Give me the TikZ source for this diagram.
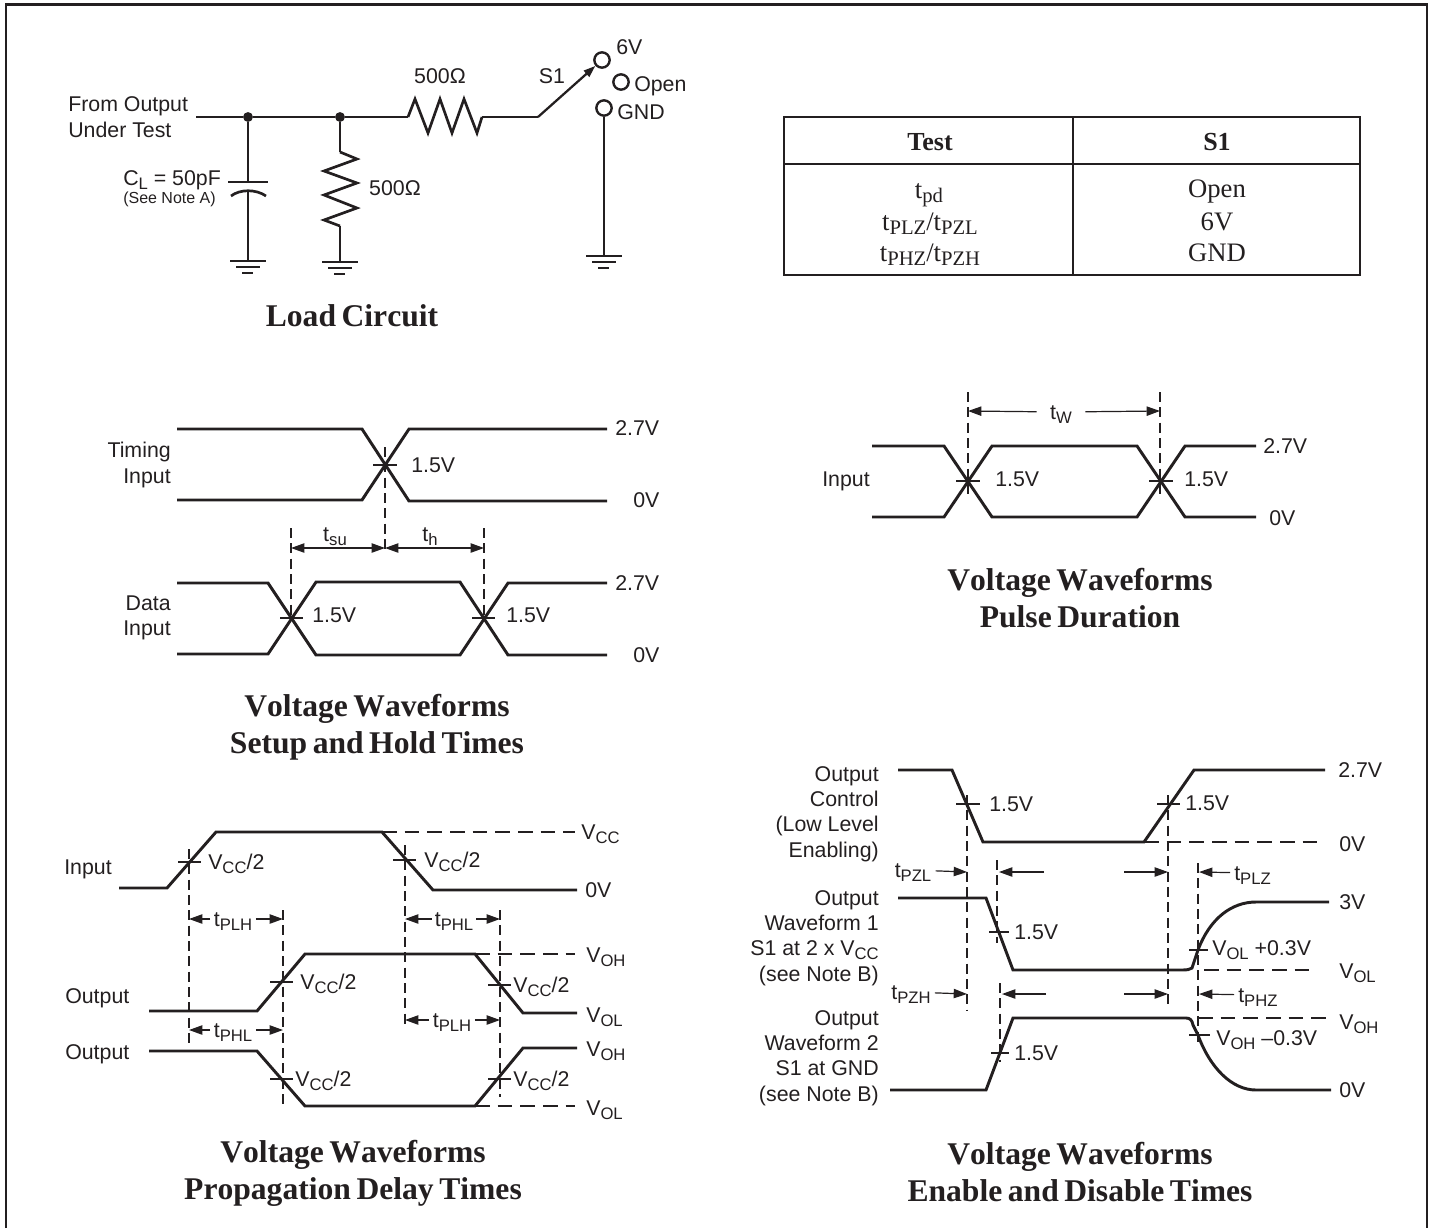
\documentclass[tikz,border=0pt]{standalone}
\usepackage{fontspec}
\setmainfont{Liberation Serif}
\setsansfont{Liberation Sans}
\newfontfamily\titlefont[WordSpace=0.7,Kerning=Off]{Liberation Serif}
\usepackage{tikz}
\usetikzlibrary{arrows.meta}
\definecolor{inkgray}{HTML}{231F20}
\tikzset{lbl/.style={font=\sffamily\fontsize{16}{19}\selectfont, text=inkgray, inner sep=0pt, text height=11.5pt, text depth=0pt}}
\tikzset{lblstack/.style={font=\sffamily\fontsize{16}{19}\selectfont, text=inkgray, inner sep=0pt, align=right, anchor=east}}
\tikzset{titletxt/.style={font=\titlefont\bfseries\fontsize{23.7}{27.75}\selectfont, text=inkgray, inner sep=0pt, align=center}}
\tikzset{cellhead/.style={font=\bfseries\fontsize{19.5}{22}\selectfont, text=inkgray, inner sep=0pt}}
\tikzset{celltxt/.style={font=\fontsize{20}{22}\selectfont, text=inkgray, inner sep=0pt, text height=13pt, text depth=0pt}}
\tikzset{wave/.style={draw=inkgray, line width=2.2pt, line join=miter}}
\tikzset{wirepen/.style={draw=inkgray, line width=2pt}}
\tikzset{dashpen/.style={draw=inkgray, line width=.8pt, dash pattern=on 7.5pt off 4pt}}
\tikzset{hdashpen/.style={draw=inkgray, line width=.8pt, dash pattern=on 11pt off 6pt}}
\tikzset{tickpen/.style={draw=inkgray, line width=.8pt}}
\tikzset{dimpen/.style={draw=inkgray, line width=.9pt, >={Triangle[length=10pt,width=7pt]}}}
\tikzset{contact/.style={shape=circle, draw=inkgray, line width=1.8pt, fill=white, minimum size=11.5pt, inner sep=0pt}}
\tikzset{junction/.style={shape=circle, fill=inkgray, minimum size=7.4pt, inner sep=0pt}}
\newcommand{\subl}[1]{\raisebox{-3pt}{\fontsize{12.5}{14}\selectfont #1}}
\newcommand{\subt}[1]{\raisebox{-2.5pt}{\fontsize{15.5}{17}\selectfont #1}}
\newcommand{\groundbars}[1]{\draw[wirepen] (#1) +(-18,0) -- +(18,0) +(-12,6) -- +(12,6) +(-6,12) -- +(5,12);}
\begin{document}
\begin{tikzpicture}[x=.75pt,y=-.75pt]
		\useasboundingbox (0,0) rectangle (1433,1228);
		\draw[draw=inkgray, line width=2.2pt] (6,1228) |- (1427,4.5) -- (1427,1228);

		\node[lblstack, align=left, anchor=west] (fromout) at (68,117) {From Output\\Under Test};
		\coordinate (w0) at (196,117);
		\node[junction] (j1) at (248,117) {};
		\node[junction] (j2) at (340,117) {};
		\coordinate (r1a) at (408,117);
		\coordinate (r1b) at (482,117);
		\coordinate (w4) at (538,117);
		\node[contact] (s6v) at (602,60) {};
		\node[contact] (sopen) at (621,82) {};
		\node[contact] (sgnd) at (604,108) {};
		\coordinate (capt) at (248,182);
		\coordinate (capb) at (248,191);
		\coordinate (g1) at (248,261);
		\coordinate (r2a) at (340,152);
		\coordinate (r2b) at (340,226);
		\coordinate (g2) at (340,262);
		\coordinate (g3) at (604,256);
		\draw[wirepen] (w0) -- (j1);
		\draw[wirepen] (j1) -- (j2);
		\draw[wirepen] (j2) -- (r1a);
		\draw[wirepen] (r1a) -- (415,99) -- (428,133) -- (440,99) -- (452,133) -- (464,99) -- (477,133) -- (r1b);
		\draw[wirepen] (r1b) -- (w4);
		\draw[wirepen, line width=1.7pt, ->, >={Triangle[length=9pt,width=6pt]}] (w4) -- (s6v);
		\draw[wirepen] (j1) -- (capt);
		\draw[wirepen] (capb) -- (g1);
		\draw[wirepen] (228,182) -- (268,182);
		\draw[wirepen] (231,196) .. controls (240,189) and (256,189) .. (266,196);
		\draw[wirepen] (j2) -- (r2a);
		\draw[wirepen] (r2a) -- (357,159) -- (324,171) -- (357,183) -- (324,195) -- (357,208) -- (324,220) -- (r2b);
		\draw[wirepen] (r2b) -- (g2);
		\draw[wirepen, line width=1.6pt] (sgnd) -- (g3);
		\groundbars{g1}
		\groundbars{g2}
		\groundbars{g3}
		\node[lbl, anchor=center] (r1lbl) at (440,76) {500Ω};
		\node[lbl, anchor=center] (r2lbl) at (395,188) {500Ω};
		\node[lbl, anchor=center] (s1lbl) at (552,76) {S1};
		\node[lbl, anchor=west] (v6lbl) at (616,47) {6V};
		\node[lbl, anchor=west] (openlbl) at (634,84) {Open};
		\node[lbl, anchor=west] (gndlbl) at (617,112) {GND};
		\node[lbl, anchor=west] (cllbl) at (123,178) {C\subl{L} = 50pF};
		\node[lbl, anchor=west, font=\sffamily\fontsize{12}{14}\selectfont, text height=8.6pt] (notea) at (123,198) {(See Note A)};
		\node[titletxt] (loadtitle) at (352,316) {Load Circuit};

		\draw[draw=inkgray, line width=2.2pt] (784,117) rectangle (1360,275);
		\draw[draw=inkgray, line width=2.2pt] (784,164) -- (1360,164);
		\draw[draw=inkgray, line width=1.2pt] (1073,117) -- (1073,275);
		\node[cellhead] (testhd) at (930,142) {Test};
		\node[cellhead] (s1hd) at (1217,142) {S1};
		\node[celltxt] (tpd) at (929,190) {t\subt{pd}};
		\node[celltxt] (tplzl) at (930,222) {t\subt{PLZ}/t\subt{PZL}};
		\node[celltxt] (tphzh) at (930,253) {t\subt{PHZ}/t\subt{PZH}};
		\node[celltxt] (openc) at (1217,189) {Open};
		\node[celltxt] (v6c) at (1217,222) {6V};
		\node[celltxt] (gndc) at (1217,253) {GND};

		\draw[wave] (177,429) -- (362,429) -- (409,501) -- (607,501);
		\draw[wave] (177,500) -- (362,500) -- (409,429) -- (607,429);
		\draw[tickpen] (373,465) -- (397,465);
		\draw[dashpen] (385,447) -- (385,552);
		\draw[dashpen] (291,528) -- (291,618);
		\draw[dashpen] (484,528) -- (484,618);
		\coordinate (su0) at (291,548);
		\coordinate (su1) at (385,548);
		\coordinate (su2) at (484,548);
		\draw[dimpen, <->] (su0) -- (su1);
		\draw[dimpen, <->] (su1) -- (su2);
		\node[lbl, anchor=center] (tsu) at (335,534) {t\subl{su}};
		\node[lbl, anchor=center] (th) at (430,534) {t\subl{h}};
		\node[lblstack] (timing) at (171,465) {Timing\\Input};
		\node[lbl, anchor=west] (tv15) at (411,465) {1.5V};
		\node[lbl, anchor=west] (tv27) at (615,428) {2.7V};
		\node[lbl, anchor=west] (tv0) at (633,500) {0V};
		\draw[wave] (177,583) -- (268,583) -- (316,655) -- (460,655) -- (508,583) -- (607,583);
		\draw[wave] (177,654) -- (268,654) -- (316,582) -- (460,582) -- (508,655) -- (607,655);
		\draw[tickpen] (280,618) -- (303,618);
		\draw[tickpen] (472,618) -- (495,618);
		\node[lblstack] (datain) at (171,618) {Data\\Input};
		\node[lbl, anchor=west] (dv15a) at (312,615) {1.5V};
		\node[lbl, anchor=west] (dv15b) at (506,615) {1.5V};
		\node[lbl, anchor=west] (dv27) at (615,583) {2.7V};
		\node[lbl, anchor=west] (dv0) at (633,655) {0V};
		\node[titletxt] (setuptitle) at (377,727) {Voltage Waveforms\\Setup and Hold Times};

		\draw[dashpen] (968,392) -- (968,497);
		\draw[dashpen] (1160,392) -- (1160,497);
		\draw[wave] (872,446) -- (944,446) -- (992,517) -- (1137,517) -- (1185,446) -- (1256,446);
		\draw[wave] (872,517) -- (944,517) -- (992,446) -- (1137,446) -- (1185,517) -- (1256,517);
		\draw[tickpen] (956,481) -- (980,481);
		\draw[tickpen] (1149,481) -- (1173,481);
		\coordinate (pw0) at (968,411);
		\coordinate (pw1) at (1160,411);
		\node[lbl, anchor=center, inner xsep=10pt] (tw) at (1061,412) {t\subl{W}};
		\draw[dimpen, ->] (tw) -- (pw0);
		\draw[dimpen, ->] (tw) -- (pw1);
		\node[lbl, anchor=west] (pin) at (822,479) {Input};
		\node[lbl, anchor=west] (pv15a) at (995,479) {1.5V};
		\node[lbl, anchor=west] (pv15b) at (1184,479) {1.5V};
		\node[lbl, anchor=west] (pv27) at (1263,446) {2.7V};
		\node[lbl, anchor=west] (pv0) at (1269,518) {0V};
		\node[titletxt] (pulsetitle) at (1080,598) {Voltage Waveforms\\Pulse Duration};

		\draw[wave] (119,888) -- (167,888) -- (216,832) -- (382,832) -- (433,890) -- (577,890);
		\draw[hdashpen] (382,832) -- (575,832);
		\draw[tickpen] (178,862) -- (201,862);
		\draw[tickpen] (393,860) -- (416,860);
		\draw[dashpen] (189,849) -- (189,1045);
		\draw[dashpen] (405,845) -- (405,1027);
		\draw[dashpen] (283,910) -- (283,1105);
		\draw[dashpen] (500,910) -- (500,1097);
		\node[lbl, anchor=west] (iin) at (64,867) {Input};
		\node[lbl, anchor=west] (ivh1) at (208,862) {V\subl{CC}/2};
		\node[lbl, anchor=west] (ivh2) at (424,860) {V\subl{CC}/2};
		\node[lbl, anchor=west] (ivcc) at (581,832) {V\subl{CC}};
		\node[lbl, anchor=west] (iv0) at (585,890) {0V};
		\coordinate (da0) at (189,919);
		\coordinate (da1) at (283,919);
		\node[lbl, anchor=center, inner xsep=2.5pt] (tplh1) at (233,919) {t\subl{PLH}};
		\draw[dimpen, ->] (tplh1) -- (da0);
		\draw[dimpen, ->] (tplh1) -- (da1);
		\coordinate (db0) at (405,919);
		\coordinate (db1) at (500,919);
		\node[lbl, anchor=center, inner xsep=2pt] (tphl1) at (454,919) {t\subl{PHL}};
		\draw[dimpen, ->] (tphl1) -- (db0);
		\draw[dimpen, ->] (tphl1) -- (db1);
		\draw[wave] (149,1011) -- (257,1011) -- (305,954) -- (475,954) -- (523,1013) -- (577,1013);
		\draw[hdashpen] (475,954) -- (575,954);
		\draw[tickpen] (270,982) -- (293,982);
		\draw[tickpen] (488,985) -- (511,985);
		\node[lbl, anchor=west] (o1lbl) at (65,996) {Output};
		\node[lbl, anchor=west] (o1vh1) at (300,982) {V\subl{CC}/2};
		\node[lbl, anchor=west] (o1vh2) at (513,985) {V\subl{CC}/2};
		\node[lbl, anchor=west] (o1voh) at (586,955) {V\subl{OH}};
		\node[lbl, anchor=west] (o1vol) at (586,1015) {V\subl{OL}};
		\coordinate (dc0) at (405,1020);
		\coordinate (dc1) at (500,1020);
		\node[lbl, anchor=center, inner xsep=2.5pt] (tplh2) at (452,1020) {t\subl{PLH}};
		\draw[dimpen, ->] (tplh2) -- (dc0);
		\draw[dimpen, ->] (tplh2) -- (dc1);
		\coordinate (dd0) at (189,1030);
		\coordinate (dd1) at (283,1030);
		\node[lbl, anchor=center, inner xsep=2.5pt] (tphl2) at (233,1030) {t\subl{PHL}};
		\draw[dimpen, ->] (tphl2) -- (dd0);
		\draw[dimpen, ->] (tphl2) -- (dd1);
		\draw[wave] (149,1051) -- (257,1051) -- (305,1106) -- (475,1106) -- (523,1048) -- (577,1048);
		\draw[hdashpen] (475,1106) -- (575,1106);
		\draw[tickpen] (270,1079) -- (293,1079);
		\draw[tickpen] (488,1079) -- (511,1079);
		\node[lbl, anchor=west] (o2lbl) at (65,1052) {Output};
		\node[lbl, anchor=west] (o2vh1) at (295,1079) {V\subl{CC}/2};
		\node[lbl, anchor=west] (o2vh2) at (513,1079) {V\subl{CC}/2};
		\node[lbl, anchor=west] (o2voh) at (586,1049) {V\subl{OH}};
		\node[lbl, anchor=west] (o2vol) at (586,1108) {V\subl{OL}};
		\node[titletxt] (proptitle) at (353,1173) {Voltage Waveforms\\Propagation Delay Times};

		\draw[wave] (898,770) -- (952,770) -- (983,842) -- (1144,842) -- (1194,770) -- (1325,770);
		\draw[hdashpen] (1144,842) -- (1325,842);
		\draw[tickpen] (956,804) -- (980,804);
		\draw[tickpen] (1157,804) -- (1180,804);
		\draw[dashpen] (967,795) -- (967,1010);
		\draw[dashpen] (1168,795) -- (1168,1007);
		\draw[dashpen] (997,860) -- (997,943);
		\draw[dashpen] (1000,983) -- (1000,1062);
		\draw[dashpen] (1198,863) -- (1198,1045);
		\node[lblstack] (ctl) at (879,814) {Output\\Control\\(Low Level\\Enabling)};
		\node[lbl, anchor=west] (cv15a) at (989,804) {1.5V};
		\node[lbl, anchor=west] (cv15b) at (1185,803) {1.5V};
		\node[lbl, anchor=west] (cv27) at (1338,770) {2.7V};
		\node[lbl, anchor=west] (cv0) at (1339,844) {0V};
		\coordinate (ea0) at (967,872);
		\coordinate (ea1) at (1044,872);
		\coordinate (ea2) at (999,872);
		\coordinate (ea3) at (1124,872);
		\coordinate (ea4) at (1168,872);
		\coordinate (ea5) at (1199,872);
		\node[lbl, anchor=center, inner xsep=3pt] (tpzl) at (913,870) {t\subl{PZL}};
		\node[lbl, anchor=west, inner xsep=3pt] (tplz) at (1230,873) {t\subl{PLZ}};
		\draw[dimpen, ->] (tpzl) -- (ea0);
		\draw[dimpen, ->] (ea1) -- (ea2);
		\draw[dimpen, ->] (ea3) -- (ea4);
		\draw[dimpen, ->] (tplz) -- (ea5);
		\draw[wave] (898,898) -- (986,898) -- (1013,970) -- (1182,970) .. controls (1187,970) and (1190,969.5) .. (1192,968) -- (1198,950) .. controls (1210,918) and (1232,902) .. (1256,902) -- (1329,902);
		\draw[hdashpen] (1204,970) -- (1317,970);
		\draw[tickpen] (989,932) -- (1009,932);
		\draw[tickpen] (1189,950) -- (1208,950);
		\node[lblstack] (wf1) at (879,938) {Output\\Waveform 1\\S1 at 2 x V\subl{CC}\\(see Note B)};
		\node[lbl, anchor=west] (w1v15) at (1014,932) {1.5V};
		\node[lbl, anchor=west] (w1vol3) at (1212,948) {V\subl{OL} +0.3V};
		\node[lbl, anchor=west] (w1v3) at (1339,902) {3V};
		\node[lbl, anchor=west] (w1vol) at (1339,971) {V\subl{OL}};
		\coordinate (eb0) at (967,994);
		\coordinate (eb1) at (1046,994);
		\coordinate (eb2) at (1002,994);
		\coordinate (eb3) at (1124,994);
		\coordinate (eb4) at (1168,994);
		\coordinate (eb5) at (1199,994);
		\node[lbl, anchor=center, inner xsep=3pt] (tpzh) at (911,992) {t\subl{PZH}};
		\node[lbl, anchor=west, inner xsep=3pt] (tphz) at (1234,995) {t\subl{PHZ}};
		\draw[dimpen, ->] (tpzh) -- (eb0);
		\draw[dimpen, ->] (eb1) -- (eb2);
		\draw[dimpen, ->] (eb3) -- (eb4);
		\draw[dimpen, ->] (tphz) -- (eb5);
		\draw[wave] (890,1090) -- (986,1090) -- (1013,1018) -- (1186,1018) .. controls (1190,1018) and (1192,1020) .. (1193,1025) -- (1198,1035) .. controls (1210,1068) and (1232,1090) .. (1256,1090) -- (1331,1090);
		\draw[hdashpen] (1198,1018) -- (1329,1018);
		\draw[tickpen] (991,1053) -- (1009,1053);
		\draw[tickpen] (1189,1035) -- (1210,1035);
		\node[lblstack] (wf2) at (879,1058) {Output\\Waveform 2\\S1 at GND\\(see Note B)};
		\node[lbl, anchor=west] (w2v15) at (1014,1053) {1.5V};
		\node[lbl, anchor=west] (w2voh3) at (1216,1038) {V\subl{OH} --0.3V};
		\node[lbl, anchor=west] (w2voh) at (1339,1022) {V\subl{OH}};
		\node[lbl, anchor=west] (w2v0) at (1339,1090) {0V};
		\node[titletxt] (enabtitle) at (1080,1172) {Voltage Waveforms\\Enable and Disable Times};
	\end{tikzpicture}
\end{document}
